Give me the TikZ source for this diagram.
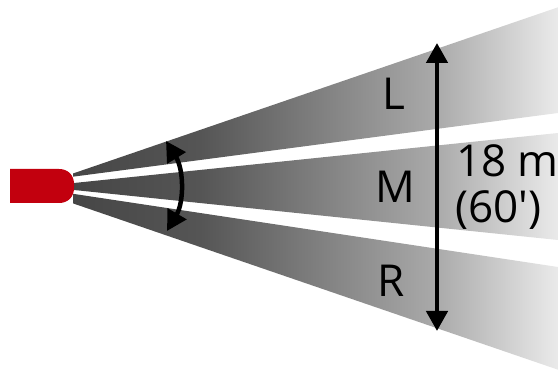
\documentclass[tikz,border=0pt]{standalone}
\usepackage{fontspec}
\setmainfont{Open Sans}
\usetikzlibrary{arrows.meta}
\definecolor{bodyred}{HTML}{C2000E}
\definecolor{gz}{HTML}{464646}
\definecolor{ga}{HTML}{555555}
\definecolor{gb}{HTML}{AAAAAA}
\definecolor{gc}{HTML}{EAEAEA}
\pgfdeclarehorizontalshading{beamshade}{100bp}{color(0bp)=(gz); color(25bp)=(gz); color(38.1bp)=(ga); color(62.5bp)=(gb); color(75bp)=(gc); color(100bp)=(gc)}
\tikzset{
  beam/.style={shading=beamshade, draw=none},
  lbl/.style={font=\fontsize{44}{46}\selectfont, inner sep=0pt, anchor=base},
  dim/.style={line width=4.5pt, {Triangle[width=21pt,length=20pt]}-{Triangle[width=21pt,length=20pt]}},
}
\begin{document}
\begin{tikzpicture}[x=1pt,y=-1pt]
\useasboundingbox (0,0) rectangle (558,371);
% beams
\shade[beam] (73,173.5) -- (558,7.3) -- (558,113) -- (73,176.7) -- cycle;
\shade[beam] (73,183.1) -- (558,133) -- (558,240) -- (73,189.9) -- cycle;
\shade[beam] (73,193.8) -- (558,267) -- (558,369.7) -- (73,203.4) -- cycle;
% body
\fill[bodyred] (10,169) -- (59,169) .. controls (68,169) and (74,175) .. (74,184)
  -- (74,188) .. controls (74,197) and (68,203) .. (59,203) -- (10,203) -- cycle;
% curved arrow
\coordinate (at) at (166,141);
\coordinate (ab) at (167,231);
\draw[dim] (at) .. controls (184,170) and (184,202) .. (ab);
% vertical dimension
\coordinate (vt) at (437,43);
\coordinate (vb) at (437,331);
\draw[dim] (vt) -- (vb);
% labels
\node[lbl] (L) at (394,110) {L};
\node[lbl] (M) at (395,203) {M};
\node[lbl] (R) at (391,297) {R};
\node[lbl, anchor=base west] (d1) at (456,177) {18 m};
\node[lbl, anchor=base west] (d2) at (455,223) {(60\textquotesingle)};
\end{tikzpicture}
\end{document}
